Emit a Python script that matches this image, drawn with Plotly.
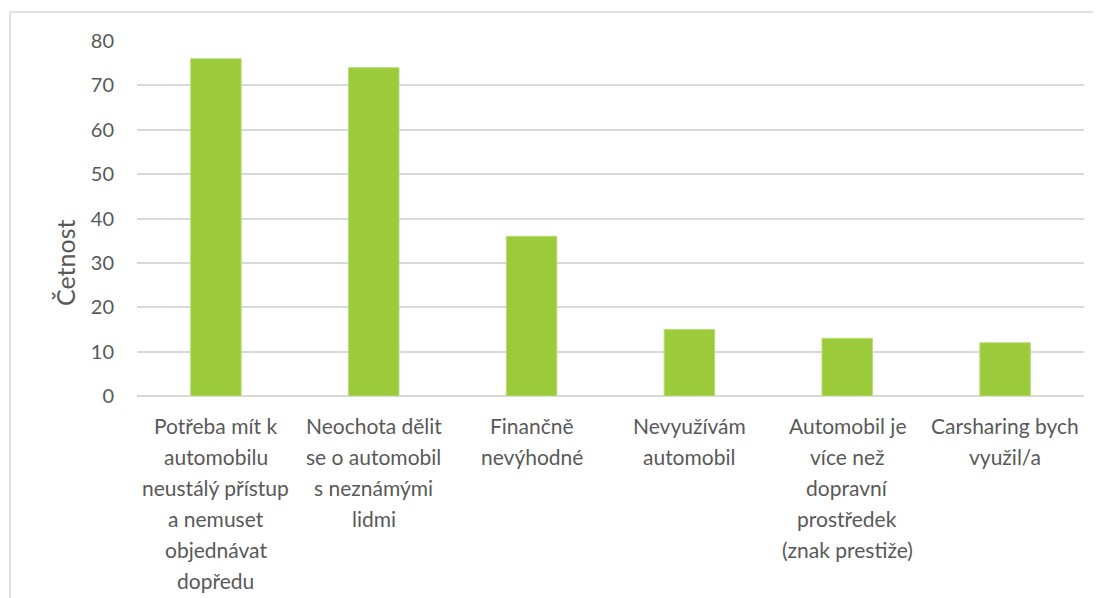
import plotly.graph_objects as go

categories = [
    "Potřeba mít k<br>automobilu<br>neustálý přístup<br>a nemuset<br>objednávat<br>dopředu",
    "Neochota dělit<br>se o automobil<br>s neznámými<br>lidmi",
    "Finančně<br>nevýhodné",
    "Nevyužívám<br>automobil",
    "Automobil je<br>více než<br>dopravní<br>prostředek<br>(znak prestiže)",
    "Carsharing bych<br>využil/a",
]
values = [76, 74, 36, 15, 13, 12]
y_title = "Četnost"
y_ticks = [0, 10, 20, 30, 40, 50, 60, 70, 80]

FONT = "Lato, 'Open Sans', sans-serif"
TXT = "#595959"

fig = go.Figure(go.Bar(
    x=list(range(len(categories))),
    y=values,
    marker=dict(color="#9BCB3B", line=dict(color="#B8DC78", width=1)),
    width=0.32,
))

annotations = []
for i, cat in enumerate(categories):
    for j, line in enumerate(cat.split("<br>")):
        annotations.append(dict(
            x=i, y=0, xref="x", yref="y", text=line, showarrow=False,
            yshift=-29 - 31 * j, yanchor="middle", xanchor="center",
            font=dict(family=FONT, size=21, color=TXT),
        ))

W, H = 1101, 598
# page body has an 8px offset
ml, mr, mt, mb = 129, 25, 33, 210
pw, ph = W - ml - mr, H - mt - mb
bx = (2 - ml) / pw
by = (H - mb - 4) / ph

annotations.append(dict(
    x=(57 - ml) / pw, y=(H - mb - 255) / ph, xref="paper", yref="paper",
    text=y_title, textangle=-90, showarrow=False,
    xanchor="center", yanchor="middle",
    font=dict(family=FONT, size=25, color=TXT),
))

fig.update_layout(
    width=W, height=H,
    margin=dict(l=ml, r=mr, t=mt, b=mb, pad=0),
    paper_bgcolor="white", plot_bgcolor="white",
    showlegend=False,
    annotations=annotations,
    shapes=[
        dict(type="line", xref="paper", yref="paper", x0=bx, x1=1.5, y0=by, y1=by,
             line=dict(color="#D9D9D9", width=1.5)),
        dict(type="line", xref="paper", yref="paper", x0=bx, x1=bx, y0=by, y1=-1,
             line=dict(color="#D9D9D9", width=1.5)),
    ],
    xaxis=dict(
        range=[-0.5, len(categories) - 0.5],
        showticklabels=False, showgrid=False, zeroline=False, showline=False,
        fixedrange=True,
    ),
    yaxis=dict(
        range=[0, 80], tickvals=y_ticks,
        showgrid=True, gridcolor="#D9D9D9", gridwidth=1.5,
        zeroline=True, zerolinecolor="#D9D9D9", zerolinewidth=1.5,
        showline=False,
        tickfont=dict(family=FONT, size=20, color=TXT),
        ticklabelstandoff=22,
    ),
)

fig.write_html("out.html")
